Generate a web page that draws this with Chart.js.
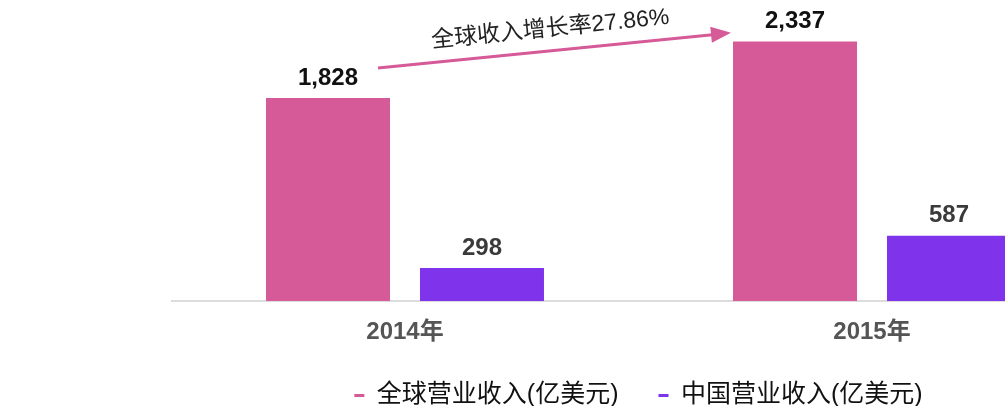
<!DOCTYPE html>
<html><head><meta charset="utf-8">
<script src="https://cdn.jsdelivr.net/npm/chart.js@4/dist/chart.umd.min.js"></script>
<style>
html,body{margin:0;padding:0;background:#fff;}
#wrap{width:1005px;height:406px;overflow:hidden;position:relative;}
#c{position:absolute;left:0;top:0;}
</style></head><body>
<div id="wrap"><canvas id="c" width="1284" height="418"></canvas></div>
<script>
const categories = ["2014年", "2015年"];
const globalRevenue = [1828, 2337];
const chinaRevenue = [298, 587];
const seriesNames = ["全球营业收入(亿美元)", "中国营业收入(亿美元)"];
const growthText = "全球收入增长率27.86%";

const FONT = '"Liberation Sans", Arial, "Noto Sans CJK SC", sans-serif';
const labelColors = ['#111', '#3a3a3a'];

const labelPlugin = {
  id: 'valLabels',
  afterDatasetsDraw(chart) {
    const ctx = chart.ctx;
    ctx.save();
    ctx.font = 'bold 24px ' + FONT;
    ctx.textAlign = 'center';
    ctx.textBaseline = 'bottom';
    chart.data.datasets.forEach((ds, i) => {
      ctx.fillStyle = labelColors[i];
      chart.getDatasetMeta(i).data.forEach((el, j) => {
        ctx.fillText(ds.data[j].toLocaleString('en-US'), el.x, el.y - 8);
      });
    });
    // growth arrow between global bars
    const g = chart.getDatasetMeta(0).data;
    const x1 = g[0].x + 50, y1 = g[0].y - 30;
    const x2 = g[1].x - 70, y2 = g[1].y - 8;
    ctx.strokeStyle = '#D55A97';
    ctx.fillStyle = '#D55A97';
    ctx.lineWidth = 3;
    ctx.beginPath(); ctx.moveTo(x1, y1); ctx.lineTo(x2, y2); ctx.stroke();
    const ang = Math.atan2(y2 - y1, x2 - x1);
    ctx.beginPath();
    ctx.moveTo(x2 + 6 * Math.cos(ang), y2 + 6 * Math.sin(ang));
    ctx.lineTo(x2 - 14 * Math.cos(ang) + 8 * Math.sin(ang), y2 - 14 * Math.sin(ang) - 8 * Math.cos(ang));
    ctx.lineTo(x2 - 14 * Math.cos(ang) - 8 * Math.sin(ang), y2 - 14 * Math.sin(ang) + 8 * Math.cos(ang));
    ctx.closePath(); ctx.fill();
    ctx.translate((x1 + x2) / 2, (y1 + y2) / 2 - 10);
    ctx.rotate(ang);
    ctx.font = '23px ' + FONT;
    ctx.fillStyle = '#222';
    ctx.textBaseline = 'bottom';
    ctx.fillText(growthText, 0, 0);
    ctx.restore();
  }
};

new Chart(document.getElementById('c'), {
  type: 'bar',
  data: {
    labels: categories,
    datasets: [
      { label: seriesNames[0], data: globalRevenue, backgroundColor: '#D55A97' },
      { label: seriesNames[1], data: chinaRevenue, backgroundColor: '#7F33EB' }
    ]
  },
  options: {
    responsive: false,
    animation: false,
    devicePixelRatio: 1,
    layout: { padding: { left: 171.5, right: 178.5, top: 30, bottom: 0 } },
    datasets: { bar: { categoryPercentage: 0.6595, barPercentage: 0.805 } },
    plugins: {
      legend: {
        position: 'bottom',
        labels: { font: { family: FONT, size: 25 }, color: '#111', boxWidth: 10, boxHeight: 3, padding: 40 }
      },
      tooltip: { enabled: false }
    },
    scales: {
      x: {
        grid: { display: false, drawTicks: false },
        border: { color: '#dcdcdc', width: 2 },
        ticks: { font: { family: FONT, size: 24, weight: 'bold' }, color: '#555', padding: 17 },
        afterFit: s => { s.height = 42; }
      },
      y: { display: false, min: 0, max: 2440 }
    }
  },
  plugins: [labelPlugin]
});
</script>
</body></html>
